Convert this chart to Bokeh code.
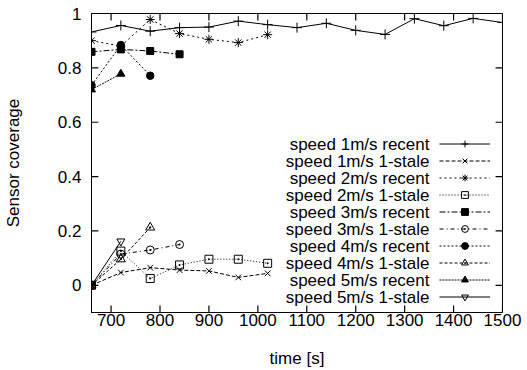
from bokeh.plotting import figure
from bokeh.models import Range1d, FixedTicker, Legend, LegendItem, Label
from bokeh.embed import file_html
from bokeh.resources import INLINE

# ---- data ----
t_all = [660, 720, 780, 840, 900, 960, 1020, 1080, 1140, 1200, 1260, 1320, 1380, 1440, 1500]
t_7 = [660, 720, 780, 840, 900, 960, 1020]
t_4 = [660, 720, 780, 840]
t_3 = [660, 720, 780]
t_2 = [660, 720]

s1_recent = [0.932, 0.956, 0.935, 0.948, 0.950, 0.972, 0.959, 0.948, 0.964, 0.938, 0.923, 0.981, 0.955, 0.982, 0.967]
s1_stale = [0.0, 0.047, 0.065, 0.056, 0.053, 0.029, 0.044]
s2_recent = [0.900, 0.880, 0.978, 0.926, 0.905, 0.893, 0.922]
s2_stale = [0.0, 0.126, 0.025, 0.075, 0.096, 0.096, 0.081]
s3_recent = [0.859, 0.868, 0.862, 0.850]
s3_stale = [0.0, 0.115, 0.130, 0.150]
s4_recent = [0.736, 0.884, 0.771]
s4_stale = [0.0, 0.096, 0.213]
s5_recent = [0.720, 0.778]
s5_stale = [0.0, 0.162]

series_labels = ["speed 1m/s recent", "speed 1m/s 1-stale", "speed 2m/s recent", "speed 2m/s 1-stale",
                 "speed 3m/s recent", "speed 3m/s 1-stale", "speed 4m/s recent", "speed 4m/s 1-stale",
                 "speed 5m/s recent", "speed 5m/s 1-stale"]
series_x = [t_all, t_7, t_7, t_7, t_4, t_4, t_3, t_3, t_2, t_2]
series_y = [s1_recent, s1_stale, s2_recent, s2_stale, s3_recent, s3_stale, s4_recent, s4_stale, s5_recent, s5_stale]

x_ticks = [700, 800, 900, 1000, 1100, 1200, 1300, 1400, 1500]
y_ticks = [0, 0.2, 0.4, 0.6, 0.8, 1]
y_tick_labels = ["0", "0.2", "0.4", "0.6", "0.8", "1"]
x_min, x_max = 660, 1500
y_min, y_max = -0.1, 1.0

# ---- styles ----
styles = [
    dict(marker="cross", size=10, filled=False, dash="solid"),
    dict(marker="x", size=8, filled=False, dash="4 2"),
    dict(marker="asterisk", size=9, filled=False, dash="2 3"),
    dict(marker="square_dot", size=8, filled=False, dash="1 2"),
    dict(marker="square", size=7, filled=True, dash="6 2 2 2"),
    dict(marker="circle_dot", size=8, filled=False, dash="4 3 1 3"),
    dict(marker="circle", size=7.5, filled=True, dash="2 2"),
    dict(marker="triangle_dot", size=9, filled=False, dash="3 2"),
    dict(marker="triangle", size=8, filled=True, dash="2 1"),
    dict(marker="inverted_triangle", size=8, filled=False, dash="solid"),
]

FONT = "Liberation Sans"
FS = "17px"
W, H = 527, 370
BL, BR, BT, BB = 86, 25, 13, 56
TICK_PX = 7
frame_w = W - BL - BR
frame_h = H - BT - BB
tx = TICK_PX * (x_max - x_min) / frame_w   # tick length in x data units
ty = TICK_PX * (y_max - y_min) / frame_h   # tick length in y data units

p = figure(width=W, height=H, output_backend="svg", toolbar_location=None,
           x_range=Range1d(x_min, x_max), y_range=Range1d(y_min, y_max),
           min_border_left=BL, min_border_right=BR, min_border_top=BT, min_border_bottom=BB)
p.grid.visible = False
p.outline_line_color = "black"
p.outline_line_width = 1
p.background_fill_color = "white"
p.border_fill_color = "white"

# inward tick marks on all four sides
nx, ny = len(x_ticks), len(y_ticks)
p.segment(x0=x_ticks, y0=[y_min] * nx, x1=x_ticks, y1=[y_min + ty] * nx, line_color="black", line_width=1.2)
p.segment(x0=x_ticks, y0=[y_max] * nx, x1=x_ticks, y1=[y_max - ty] * nx, line_color="black", line_width=1.2)
p.segment(x0=[x_min] * ny, y0=y_ticks, x1=[x_min + tx] * ny, y1=y_ticks, line_color="black", line_width=1.2)
p.segment(x0=[x_max] * ny, y0=y_ticks, x1=[x_max - tx] * ny, y1=y_ticks, line_color="black", line_width=1.2)

items = []
for xs, ys, st in zip(series_x, series_y, styles):
    lr = p.line(xs, ys, line_color="black", line_width=1, line_dash=st["dash"])
    sr = p.scatter(xs, ys, marker=st["marker"], size=st["size"], line_color="black", line_width=1,
                   fill_color="black" if st["filled"] else None)
    items.append(LegendItem(label=" ", renderers=[lr, sr]))

xa = p.xaxis[0]
ya = p.yaxis[0]
xa.ticker = FixedTicker(ticks=x_ticks)
ya.ticker = FixedTicker(ticks=y_ticks)
ya.major_label_overrides = {t: l for t, l in zip(y_ticks, y_tick_labels)}
xa.axis_label = "time [s]"
ya.axis_label = "Sensor coverage"
for ax in (xa, ya):
    ax.major_tick_in = 0
    ax.major_tick_out = 0
    ax.major_tick_line_color = None
    ax.minor_tick_line_color = None
    ax.axis_line_color = "black"
    ax.major_label_text_font = FONT
    ax.major_label_text_font_size = FS
    ax.major_label_text_color = "black"
    ax.axis_label_text_font = FONT
    ax.axis_label_text_font_size = FS
    ax.axis_label_text_font_style = "normal"
    ax.axis_label_text_color = "black"
xa.major_label_standoff = 1
xa.axis_label_standoff = 20
ya.major_label_standoff = 10
ya.axis_label_standoff = 32

ROW = 17
LEG_BOTTOM = 7
leg = Legend(items=items, location=(348, LEG_BOTTOM), orientation="vertical",
             glyph_width=51, glyph_height=ROW, label_height=ROW, label_width=0, label_standoff=0,
             label_text_font_size="1px", label_text_alpha=0, padding=0, spacing=0, margin=0,
             border_line_color=None, background_fill_alpha=0)
p.add_layout(leg)

n = len(series_labels)
for i, txt in enumerate(series_labels):
    p.add_layout(Label(x=338, y=LEG_BOTTOM + (n - 1 - i) * ROW + ROW / 2, x_units="screen", y_units="screen",
                       text=txt, text_align="right", text_baseline="middle",
                       text_font=FONT, text_font_size=FS, text_color="black"))

open("out.html", "w").write(file_html(p, INLINE))
